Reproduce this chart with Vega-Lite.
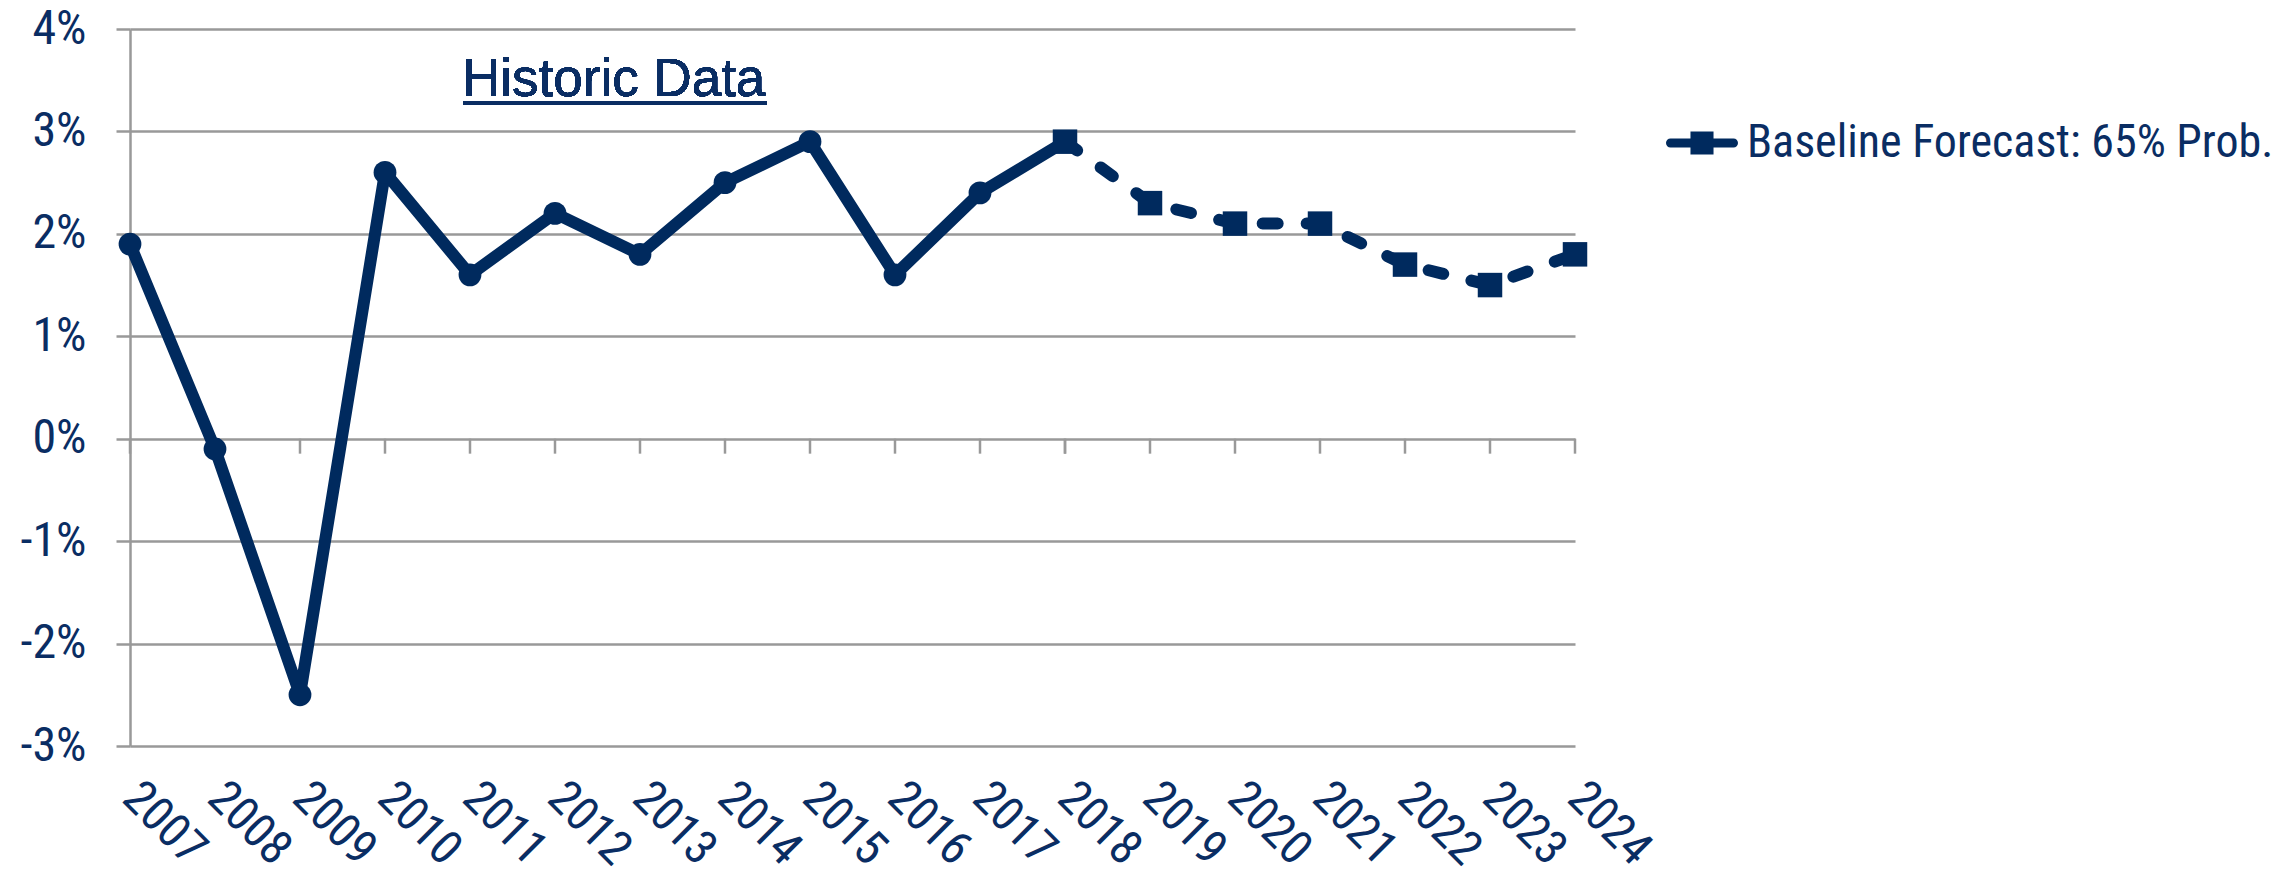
{
  "$schema": "https://vega.github.io/schema/vega-lite/v6.json",
  "width": 1445,
  "height": 717,
  "autosize": {"type": "none"},
  "padding": {"left": 130, "top": 29, "right": 718, "bottom": 133},
  "background": "white",
  "config": {
    "view": {"stroke": null},
    "axis": {"labelColor": "#0A2D63", "labelFont": "Roboto Condensed, Roboto", "labelFontSize": 48}
  },
  "data": {
    "values": [
      {"year": 2007, "value": 1.9, "series": "Historic"},
      {"year": 2008, "value": -0.1, "series": "Historic"},
      {"year": 2009, "value": -2.5, "series": "Historic"},
      {"year": 2010, "value": 2.6, "series": "Historic"},
      {"year": 2011, "value": 1.6, "series": "Historic"},
      {"year": 2012, "value": 2.2, "series": "Historic"},
      {"year": 2013, "value": 1.8, "series": "Historic"},
      {"year": 2014, "value": 2.5, "series": "Historic"},
      {"year": 2015, "value": 2.9, "series": "Historic"},
      {"year": 2016, "value": 1.6, "series": "Historic"},
      {"year": 2017, "value": 2.4, "series": "Historic"},
      {"year": 2018, "value": 2.9, "series": "Historic"},
      {"year": 2018, "value": 2.9, "series": "Forecast"},
      {"year": 2019, "value": 2.3, "series": "Forecast"},
      {"year": 2020, "value": 2.1, "series": "Forecast"},
      {"year": 2021, "value": 2.1, "series": "Forecast"},
      {"year": 2022, "value": 1.7, "series": "Forecast"},
      {"year": 2023, "value": 1.5, "series": "Forecast"},
      {"year": 2024, "value": 1.8, "series": "Forecast"}
    ]
  },
  "encoding": {
    "x": {
      "field": "year", "type": "quantitative",
      "scale": {"domain": [2007, 2024], "nice": false, "zero": false},
      "axis": {
        "values": [2007,2008,2009,2010,2011,2012,2013,2014,2015,2016,2017,2018,2019,2020,2021,2022,2023,2024],
        "format": "d", "title": null, "grid": false, "domain": false, "ticks": false,
        "labelAngle": 45, "labelAlign": "left", "labelBaseline": "middle", "labelPadding": 44,
        "labelOverlap": false, "labelFlush": false
      }
    },
    "y": {
      "field": "value", "type": "quantitative",
      "scale": {"domain": [-3, 4], "nice": false, "zero": false},
      "axis": {
        "values": [-3,-2,-1,0,1,2,3,4], "title": null,
        "labelExpr": "datum.value + '%'",
        "grid": true, "gridColor": "#999999", "gridWidth": 2.5, "gridOpacity": 1,
        "domain": true, "domainColor": "#999999", "domainWidth": 2.5,
        "ticks": true, "tickColor": "#999999", "tickWidth": 2.5, "tickSize": 14,
        "labelPadding": 30, "labelBaseline": "middle"
      }
    }
  },
  "layer": [
    {
      "mark": {"type": "rule", "color": "#999999", "strokeWidth": 2.5},
      "encoding": {"y": {"datum": 0}, "y2": {"datum": -0.146}}
    },
    {
      "transform": [{"filter": "datum.series === 'Historic'"}],
      "mark": {"type": "line", "color": "#002A5E", "strokeWidth": 12, "strokeJoin": "round", "strokeCap": "round"}
    },
    {
      "transform": [{"filter": "datum.series === 'Forecast'"}],
      "mark": {"type": "line", "color": "#002A5E", "strokeWidth": 12, "strokeDash": [15, 29], "strokeCap": "round", "strokeJoin": "round"}
    },
    {
      "transform": [{"filter": "datum.series === 'Historic' && datum.year < 2018"}],
      "mark": {"type": "point", "shape": "circle", "filled": true, "size": 520, "color": "#002A5E", "opacity": 1}
    },
    {
      "transform": [{"filter": "datum.series === 'Forecast'"}],
      "mark": {"type": "point", "shape": "square", "filled": true, "size": 600, "opacity": 1},
      "encoding": {
        "color": {
          "datum": "Baseline Forecast: 65% Prob.",
          "scale": {"range": ["#002A5E"]},
          "legend": {
            "title": null, "orient": "none", "legendX": 1536, "legendY": 78,
            "symbolType": "M-0.875,-0.125H0.875A0.125,0.125 0 0 1 0.875,0.125H-0.875A0.125,0.125 0 0 1 -0.875,-0.125Z M-0.32,-0.32H0.32V0.32H-0.32Z",
            "symbolSize": 5184, "symbolFillColor": "#002A5E", "symbolStrokeWidth": 0, "symbolOpacity": 1,
            "labelFont": "Roboto Condensed, Roboto", "labelFontSize": 46, "labelColor": "#0A2D63",
            "labelOffset": 9, "labelLimit": 800,
            "encode": {"symbols": {"update": {"fill": {"value": "#002A5E"}, "stroke": {"value": "transparent"}, "opacity": {"value": 1}}}}
          }
        }
      }
    },
    {
      "mark": {"type": "text", "text": "Historic Data", "font": "Liberation Sans", "fontSize": 53, "color": "#0A2D63", "align": "center", "baseline": "middle"},
      "encoding": {"x": {"datum": 2012.69}, "y": {"datum": 3.5}}
    },
    {
      "mark": {"type": "rule", "color": "#0A2D63", "strokeWidth": 3.5},
      "encoding": {"x": {"datum": 2010.92}, "x2": {"datum": 2014.49}, "y": {"datum": 3.277}}
    }
  ]
}
